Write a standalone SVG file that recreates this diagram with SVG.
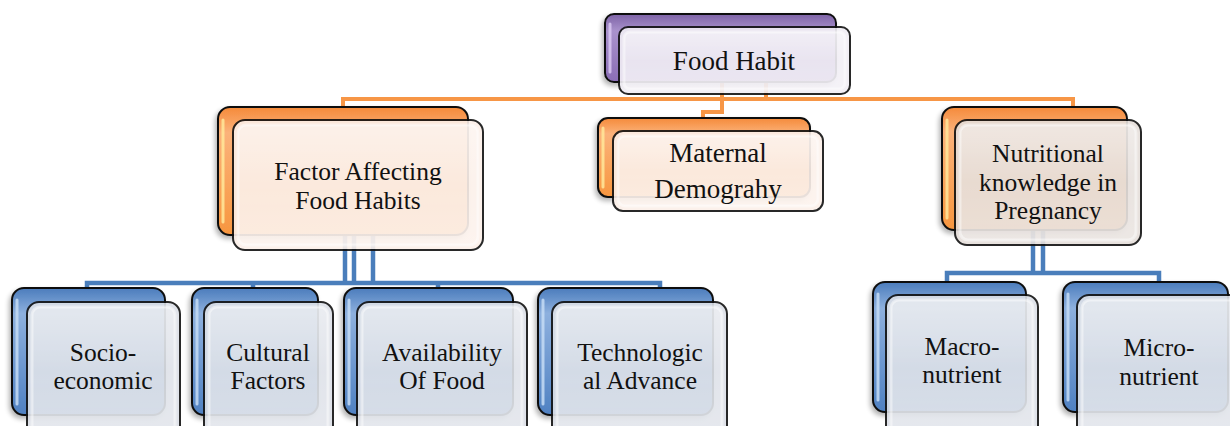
<svg xmlns="http://www.w3.org/2000/svg" width="1230" height="426" viewBox="0 0 1230 426">
  <defs>
    <linearGradient id="gPurple" x1="0" y1="0" x2="0" y2="1">
      <stop offset="0" stop-color="#7d62a6"/>
      <stop offset="0.25" stop-color="#a992cc"/>
      <stop offset="1" stop-color="#8a6db6"/>
    </linearGradient>
    <linearGradient id="gOrange" x1="0" y1="0" x2="0" y2="1">
      <stop offset="0" stop-color="#f58a3a"/>
      <stop offset="0.2" stop-color="#fbb27a"/>
      <stop offset="1" stop-color="#f7963f"/>
    </linearGradient>
    <linearGradient id="gBlue" x1="0" y1="0" x2="0" y2="1">
      <stop offset="0" stop-color="#4b7cbc"/>
      <stop offset="0.2" stop-color="#8db0de"/>
      <stop offset="1" stop-color="#4f81c2"/>
    </linearGradient>
    <linearGradient id="gGloss" x1="0" y1="0" x2="0" y2="1">
      <stop offset="0" stop-color="#ffffff" stop-opacity="0.35"/>
      <stop offset="0.5" stop-color="#ffffff" stop-opacity="0.05"/>
      <stop offset="1" stop-color="#ffffff" stop-opacity="0.2"/>
    </linearGradient>
    <filter id="shadow" x="-10%" y="-10%" width="125%" height="130%">
      <feGaussianBlur in="SourceAlpha" stdDeviation="2.5"/>
      <feOffset dx="-2" dy="3" result="b"/>
      <feComponentTransfer><feFuncA type="linear" slope="0.3"/></feComponentTransfer>
      <feMerge><feMergeNode/><feMergeNode in="SourceGraphic"/></feMerge>
    </filter>
  </defs>
  <style>
    .back { stroke: #111; stroke-width: 2; filter: url(#shadow); }
    .purple { fill: url(#gPurple); }
    .orange { fill: url(#gOrange); }
    .blue { fill: url(#gBlue); }
    .hl { fill: none; stroke-width: 3; stroke-linecap: round; opacity: 0.85; }
    .front { stroke: #111; stroke-width: 2; opacity: 0.9; }
    .gloss { fill: url(#gGloss); stroke: #ffffff; stroke-opacity: 0.45; stroke-width: 3; }
    .lav { fill: #f1eef5; }
    .peach { fill: #fcf0e9; }
    .beige { fill: #e6dfdb; }
    .grey { fill: #dde1e8; }
    .lbl { font-family: "Liberation Serif", "Times New Roman", serif; font-size: 25.5px; fill: #111; text-anchor: middle; }
    .big { font-size: 27px; }
    .c-or { fill: none; stroke: #f79646; stroke-width: 4; }
    .c-bl { fill: none; stroke: #4a7ebb; stroke-width: 4.5; }
  </style>

  <!-- connectors, drawn under the boxes -->
  <g id="connectors">
    <path class="c-or" d="M343,108 V99 H1073 V108"/>
    <path class="c-or" d="M722,60 V112 H703 V120"/>
    <path class="c-or" d="M766,60 V99"/>
    <path class="c-bl" d="M345,200 V283"/>
    <path class="c-bl" d="M354,200 V283"/>
    <path class="c-bl" d="M373,200 V283"/>
    <path class="c-bl" d="M87,291 V283 H660 V291"/>
    <path class="c-bl" d="M253,283 V291"/>
    <path class="c-bl" d="M438,283 V291"/>
    <path class="c-bl" d="M1033,200 V273"/>
    <path class="c-bl" d="M1043,200 V273"/>
    <path class="c-bl" d="M947,284 V273 H1159 V284"/>
  </g>

  <g id="food-habit">
    <rect class="back purple" x="605" y="14" width="231" height="68" rx="9"/>
    <path class="hl" stroke="#d9c8f2" d="M610,24 V72"/>
    <rect class="front lav" x="619" y="27" width="231" height="67" rx="9"/>
    <rect class="gloss" x="624" y="32" width="221" height="57" rx="6"/>
    <text class="lbl big" x="734" y="70">Food Habit</text>
  </g>

  <g id="factor-affecting">
    <rect class="back orange" x="218" y="107" width="250" height="128" rx="12"/>
    <path class="hl" stroke="#ffe89a" d="M223,120 V222"/>
    <rect class="front peach" x="233" y="120" width="250" height="130" rx="12"/>
    <rect class="gloss" x="238" y="125" width="240" height="120" rx="8"/>
    <text class="lbl" x="358" y="180">Factor Affecting<tspan x="358" dy="28.5">Food Habits</tspan></text>
  </g>

  <g id="maternal">
    <rect class="back orange" x="598" y="118" width="212" height="79" rx="10"/>
    <path class="hl" stroke="#ffe89a" d="M603,128 V187"/>
    <rect class="front peach" x="613" y="131" width="210" height="80" rx="10"/>
    <rect class="gloss" x="618" y="136" width="200" height="70" rx="7"/>
    <text class="lbl big" x="718" y="162">Maternal<tspan x="718" dy="36">Demograhy</tspan></text>
  </g>

  <g id="nutritional">
    <rect class="back orange" x="942" y="107" width="185" height="123" rx="12"/>
    <path class="hl" stroke="#ffe89a" d="M947,120 V218"/>
    <rect class="front beige" x="955" y="120" width="186" height="125" rx="12"/>
    <rect class="gloss" x="960" y="125" width="176" height="115" rx="8"/>
    <text class="lbl" x="1048" y="162">Nutritional<tspan x="1048" dy="28.5">knowledge in</tspan><tspan x="1048" dy="28.5">Pregnancy</tspan></text>
  </g>

  <g id="socio-economic">
    <rect class="back blue" x="12" y="288" width="153" height="127" rx="12"/>
    <path class="hl" stroke="#c6dcf5" d="M17,300 V404"/>
    <rect class="front grey" x="27" y="302" width="153" height="140" rx="12"/>
    <rect class="gloss" x="32" y="307" width="143" height="130" rx="8"/>
    <text class="lbl" x="103" y="360.5">Socio-<tspan x="103" dy="28.5">economic</tspan></text>
  </g>

  <g id="cultural">
    <rect class="back blue" x="192" y="288" width="126" height="127" rx="12"/>
    <path class="hl" stroke="#c6dcf5" d="M197,300 V404"/>
    <rect class="front grey" x="204" y="302" width="129" height="140" rx="12"/>
    <rect class="gloss" x="209" y="307" width="119" height="130" rx="8"/>
    <text class="lbl" x="268" y="360.5">Cultural<tspan x="268" dy="28.5">Factors</tspan></text>
  </g>

  <g id="availability">
    <rect class="back blue" x="344" y="288" width="169" height="127" rx="12"/>
    <path class="hl" stroke="#c6dcf5" d="M349,300 V404"/>
    <rect class="front grey" x="357" y="302" width="170" height="140" rx="12"/>
    <rect class="gloss" x="362" y="307" width="160" height="130" rx="8"/>
    <text class="lbl" x="442" y="360.5">Availability<tspan x="442" dy="28.5">Of Food</tspan></text>
  </g>

  <g id="technological">
    <rect class="back blue" x="538" y="288" width="175" height="127" rx="12"/>
    <path class="hl" stroke="#c6dcf5" d="M543,300 V404"/>
    <rect class="front grey" x="552" y="302" width="175" height="140" rx="12"/>
    <rect class="gloss" x="557" y="307" width="165" height="130" rx="8"/>
    <text class="lbl" x="640" y="360.5">Technologic<tspan x="640" dy="28.5">al Advance</tspan></text>
  </g>

  <g id="macronutrient">
    <rect class="back blue" x="873" y="282" width="153" height="130" rx="12"/>
    <path class="hl" stroke="#c6dcf5" d="M878,294 V400"/>
    <rect class="front grey" x="886" y="295" width="152" height="147" rx="12"/>
    <rect class="gloss" x="891" y="300" width="142" height="137" rx="8"/>
    <text class="lbl" x="962" y="354.5">Macro-<tspan x="962" dy="28.5">nutrient</tspan></text>
  </g>

  <g id="micronutrient">
    <rect class="back blue" x="1063" y="282" width="165" height="130" rx="12"/>
    <path class="hl" stroke="#c6dcf5" d="M1068,294 V400"/>
    <rect class="front grey" x="1077" y="295" width="166" height="147" rx="12"/>
    <rect class="gloss" x="1082" y="300" width="156" height="137" rx="8"/>
    <text class="lbl" x="1159" y="356">Micro-<tspan x="1159" dy="28.5">nutrient</tspan></text>
  </g>
</svg>
